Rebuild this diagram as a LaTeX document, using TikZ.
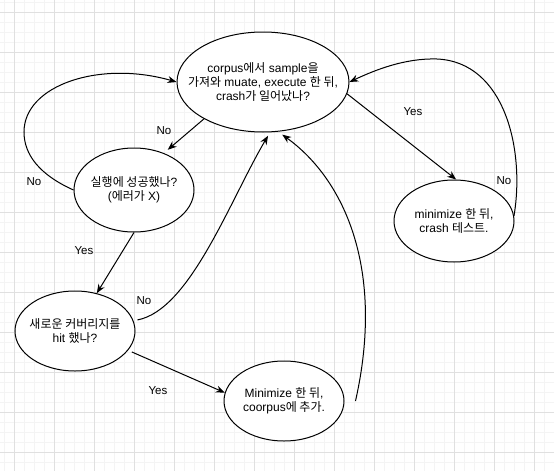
\documentclass[tikz,border=0pt]{standalone}
\usepackage{fontspec}
\setmainfont{Liberation Sans}
\newfontfamily\kofont{Noto Sans CJK KR}
\newcommand\ko[1]{{\kofont #1}}
\usetikzlibrary{arrows.meta,shapes.geometric,calc}
\definecolor{gridmajor}{RGB}{224,224,224}
\definecolor{gridminor}{RGB}{244,244,244}
\tikzset{
  ell/.style={draw=black, line width=1pt, ellipse, inner sep=0pt, fill=white},
  txt/.style={align=center, font=\fontsize{12}{14}\selectfont, inner sep=0pt},
  lbl/.style={font=\fontsize{11.5}{13}\selectfont, inner sep=0pt},
  conn/.style={draw=black, line width=1pt, -{Stealth[length=9pt,width=7pt,inset=3pt]}},
  minorgrid/.style={draw=gridminor, line width=1pt},
  majorgrid/.style={draw=gridmajor, line width=1pt}
}
\begin{document}
\begin{tikzpicture}[x=1pt,y=-1pt]
\useasboundingbox (0,0) rectangle (554,471);
\fill[white] (0,0) rectangle (554,471);
\foreach \x in {4,14,...,554} \draw[minorgrid] (\x,0) -- (\x,471);
\foreach \y in {2,12,...,471} \draw[minorgrid] (0,\y) -- (554,\y);
\foreach \x in {14,54,...,554} \draw[majorgrid] (\x,0) -- (\x,471);
\foreach \y in {12,52,...,471} \draw[majorgrid] (0,\y) -- (554,\y);

\node[ell, minimum width=172pt, minimum height=100pt,
  label={[txt]center:{corpus\ko{에서} sample\ko{을}\\\ko{가져와} muate, execute \ko{한 뒤},\\crash\ko{가 일어났나}?}}] (top) at (263,82) {};
\node[ell, minimum width=120pt, minimum height=84pt,
  label={[txt]center:{\ko{실행에 성공했나}?\\(\ko{에러가} X)}}] (n2) at (134,190) {};
\node[ell, minimum width=120pt, minimum height=82pt,
  label={[txt]center:{minimize \ko{한 뒤},\\crash \ko{테스트}.}}] (n3) at (454,221) {};
\node[ell, minimum width=120pt, minimum height=80pt,
  label={[txt]center:{\ko{새로운 커버리지를}\\hit \ko{했나}?}}] (n4) at (75,331) {};
\node[ell, minimum width=120pt, minimum height=80pt,
  label={[txt]center:{Minimize \ko{한 뒤},\\coorpus\ko{에 추가}.}}] (n5) at (284,401) {};

\draw[conn, shorten >=5pt] (top.212) -- (n2.51);
\draw[conn] (n2.180) .. controls (40,175) and (24,155) .. (24,132) .. controls (24,85) and (100,60) .. (top.180);
\draw[conn] (n2.270) -- (n4.60);
\draw[conn, shorten <=4pt, shorten >=4pt] (n4.10) .. controls (190,310) and (230,200) .. (top.278);
\draw[conn, shorten <=4pt] (n4.340) -- (n5.172);
\draw[conn, shorten >=5pt] ($(n5.east)+(11,0)$) .. controls (385,270) and (345,180) .. (top.287);
\draw[conn] (top.352) -- (n3.87);
\draw[conn] (n3.5) .. controls (525,150) and (505,62) .. (437,59) .. controls (405,58) and (375,70) .. (top.0);

\node[lbl] (l1) at (164,131) {No};
\node[lbl] (l2) at (34,182) {No};
\node[lbl] (l3) at (84,251) {Yes};
\node[lbl] (l4) at (144,301) {No};
\node[lbl] (l5) at (158,391) {Yes};
\node[lbl] (l6) at (413,112) {Yes};
\node[lbl] (l7) at (504,181) {No};
\end{tikzpicture}
\end{document}
